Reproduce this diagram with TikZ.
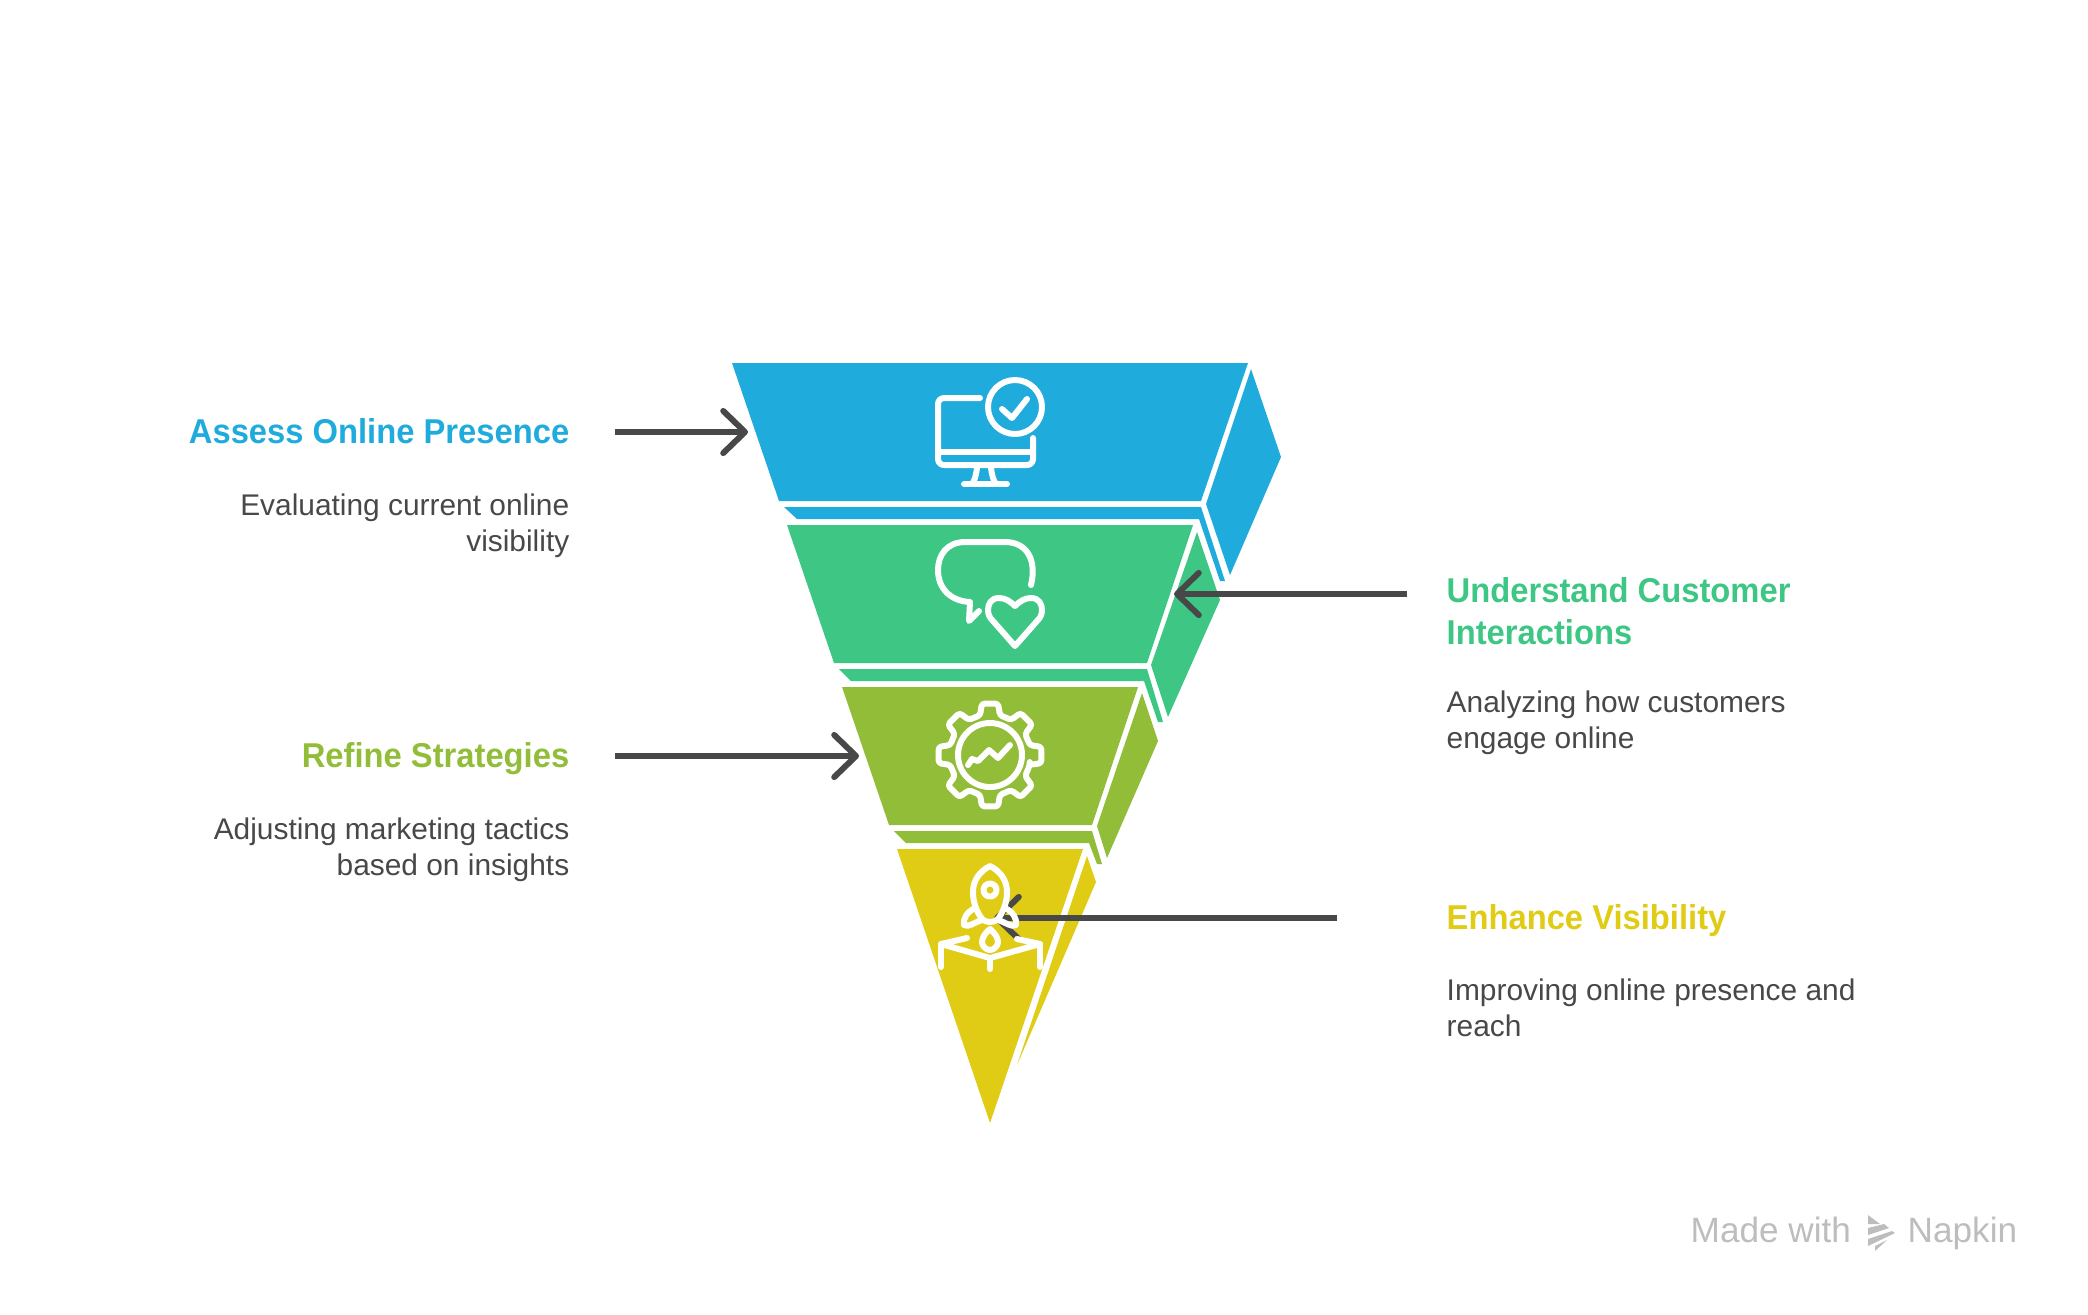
\documentclass[tikz,border=0pt]{standalone}
\usepackage{fontspec}
\setmainfont{Liberation Sans}
\newfontfamily\headingfont[FakeStretch = 0.95]{Liberation Sans}
\usetikzlibrary{arrows.meta}

\definecolor{bluepart}{HTML}{1FABDC}
\definecolor{greenpart}{HTML}{3EC784}
\definecolor{olivepart}{HTML}{92BD39}
\definecolor{yellowpart}{HTML}{E0CB15}
\definecolor{arrowgray}{HTML}{484848}
\definecolor{markgray}{HTML}{BDBDBD}

\tikzset{
    icon/.style = {draw = white, line width = 1.7pt, line cap = round, line join = round},
    pointer/.style = {arrowgray, line width = 1.7pt, ->, >={Straight Barb[length = 6.2pt, width = 12pt, round]}},
    heading/.style = {font = \headingfont\fontsize{9.8}{12}\selectfont\bfseries, inner sep = 0pt},
    blurb/.style = {arrowgray, font = \fontsize{8.5}{10.2}\selectfont, inner sep = 0pt},
    maker/.style = {markgray, font = \fontsize{10}{12}\selectfont, inner sep = 0pt, anchor = base west}
}

\begin{document}
\begin{tikzpicture}[x = 0.01cm, y = -0.01cm]
    \useasboundingbox (0, 0) rectangle (2088, 1314);

    % the four slices, top one first
    \fill [bluepart] (732, 363) -- (1248, 363) -- (1201, 501) -- (779, 501) -- cycle;
    \fill [bluepart] (1251, 369) -- (1281, 457) -- (1230, 575) -- (1206, 504) -- cycle;
    \fill [bluepart] (784, 507) -- (1201, 507) -- (1225, 581) -- (1220, 581) -- (1199, 519) -- (797, 519) -- cycle;

    \fill [greenpart] (787, 525) -- (1193, 525) -- (1147, 663) -- (834, 663) -- cycle;
    \fill [greenpart] (1197, 532) -- (1220, 600) -- (1168, 717) -- (1151, 665) -- cycle;
    \fill [greenpart] (839, 669) -- (1147, 669) -- (1163, 722) -- (1158, 722) -- (1144, 681) -- (851, 681) -- cycle;

    \fill [olivepart] (842, 687) -- (1138, 687) -- (1092, 825) -- (889, 825) -- cycle;
    \fill [olivepart] (1142, 693) -- (1158, 741) -- (1107, 858) -- (1097, 826) -- cycle;
    \fill [olivepart] (894, 831) -- (1092, 831) -- (1102, 864) -- (1097, 864) -- (1089, 843) -- (906, 843) -- cycle;

    \fill [yellowpart] (897, 849) -- (1083, 849) -- (990, 1123) -- cycle;
    \fill [yellowpart] (1087, 856) -- (1096, 882) -- (1017, 1065) -- cycle;

    % free ends of the pointers
    \coordinate (assesstail) at (615, 432);
    \coordinate (assesstip) at (748, 432);
    \coordinate (customertail) at (1407, 594);
    \coordinate (customertip) at (1174, 594);
    \coordinate (refinetail) at (615, 756);
    \coordinate (refinetip) at (859, 756);
    \coordinate (visibilitytail) at (1337, 918);
    \coordinate (visibilitytip) at (994, 918);

    \draw [pointer] (assesstail) -- (assesstip);
    \draw [pointer] (customertail) -- (customertip);
    \draw [pointer] (refinetail) -- (refinetip);
    \draw [pointer] (visibilitytail) -- (visibilitytip);

    % monitor with tick
    \draw [icon, rounded corners = 1.7pt] (980, 398) -- (938, 398) -- (938, 465) -- (1033, 465) -- (1033, 438);
    \draw [icon] (938, 452) -- (1033, 452);
    \draw [icon] (1015, 407) circle (27);
    \draw [icon] (1002, 409) -- (1012, 418) -- (1027, 399);
    \draw [icon] (977, 468) .. controls (976, 475) and (975, 480) .. (972, 484);
    \draw [icon] (991, 468) .. controls (992, 475) and (993, 480) .. (996, 484);
    \draw [icon] (964, 484) -- (1007, 484);

    % speech bubble with heart
    \draw [icon] (1031, 585) .. controls (1037, 560) and (1027, 542) .. (1005, 542) -- (965, 542)
        .. controls (947, 542) and (938, 555) .. (938, 570)
        .. controls (938, 588) and (950, 601) .. (970, 602) -- (969, 621) -- (979, 611);
    \draw [icon] (1015, 606) .. controls (1010, 601) and (1005, 598) .. (999, 598)
        .. controls (991, 598) and (988, 604) .. (988, 610)
        .. controls (988, 615) and (990, 618) .. (993, 621) -- (1015, 646) -- (1037, 621)
        .. controls (1040, 618) and (1042, 615) .. (1042, 610)
        .. controls (1042, 604) and (1039, 598) .. (1031, 598)
        .. controls (1025, 598) and (1020, 601) .. (1015, 606) -- cycle;

    % gear with chart
    \draw [icon, rounded corners = 0.8pt, shift = {(990, 755)}] (14:41)
        \foreach \a in {45, 90, ..., 360} { -- (\a - 14:41) -- (\a - 9:52) -- (\a + 9:52) -- (\a + 14:41) } -- cycle;
    \draw [icon] (990, 755) circle (32);
    \draw [icon] (968, 765) -- (972, 759) -- (978, 761) -- (989, 750) -- (998, 758) -- (1010, 745);

    % rocket over platform
    \draw [icon] (990, 866) .. controls (980, 871) and (973, 880) .. (973, 892)
        .. controls (973, 903) and (977, 912) .. (982, 919)
        .. controls (986, 923) and (994, 923) .. (998, 919)
        .. controls (1003, 912) and (1007, 903) .. (1007, 892)
        .. controls (1007, 880) and (1000, 871) .. (990, 866) -- cycle;
    \draw [icon] (990, 890) circle (6.5);
    \draw [icon] (975, 908) .. controls (967, 912) and (963, 918) .. (964, 925)
        .. controls (968, 928) and (975, 922) .. (982, 920);
    \draw [icon] (1005, 908) .. controls (1013, 912) and (1017, 918) .. (1016, 925)
        .. controls (1012, 928) and (1005, 922) .. (998, 920);
    \draw [icon] (990, 929) .. controls (985, 933) and (982, 938) .. (982, 942)
        .. controls (982, 946) and (986, 950) .. (990, 950)
        .. controls (994, 950) and (998, 946) .. (998, 942)
        .. controls (998, 938) and (995, 933) .. (990, 929) -- cycle;
    \draw [icon] (967, 938) -- (941, 944) -- (990, 958) -- (1040, 944) -- (1017, 939);
    \draw [icon] (941, 944) -- (941, 967);
    \draw [icon] (1040, 944) -- (1040, 967);
    \draw [icon] (990, 958) -- (990, 969);

    % text, left side right aligned
    \node (assesstitle) [heading, bluepart, anchor = base east] at (570, 443) {Assess Online Presence};
    \node (assesstext) [blurb, anchor = north east, align = right] at (570, 493) {Evaluating current online\\visibility};
    \node (refinetitle) [heading, olivepart, anchor = base east] at (570, 767) {Refine Strategies};
    \node (refinetext) [blurb, anchor = north east, align = right] at (570, 817) {Adjusting marketing tactics\\based on insights};

    \node (customertitle) [heading, greenpart, anchor = north west, align = left] at (1446, 577) {Understand Customer\\Interactions};
    \node (customertext) [blurb, anchor = north west, align = left] at (1446, 690) {Analyzing how customers\\engage online};
    \node (visibilitytitle) [heading, yellowpart, anchor = base west] at (1446, 929) {Enhance Visibility};
    \node (visibilitytext) [blurb, anchor = north west, align = left] at (1446, 978) {Improving online presence and\\reach};

    % maker mark
    \node (madewith) [maker] at (1690, 1242) {Made with};
    \node (napkin) [maker] at (1907, 1242) {Napkin};
    \fill [markgray] (1868, 1215) -- (1880, 1224) -- (1868, 1224) -- cycle;
    \fill [markgray] (1868, 1228) -- (1884, 1224) -- (1889, 1228) -- (1868, 1235) -- cycle;
    \fill [markgray] (1868, 1239) -- (1892, 1231) -- (1895, 1233) -- (1868, 1246) -- cycle;
    \fill [markgray] (1875, 1246) -- (1887, 1240) -- (1875, 1251) -- cycle;
\end{tikzpicture}
\end{document}
